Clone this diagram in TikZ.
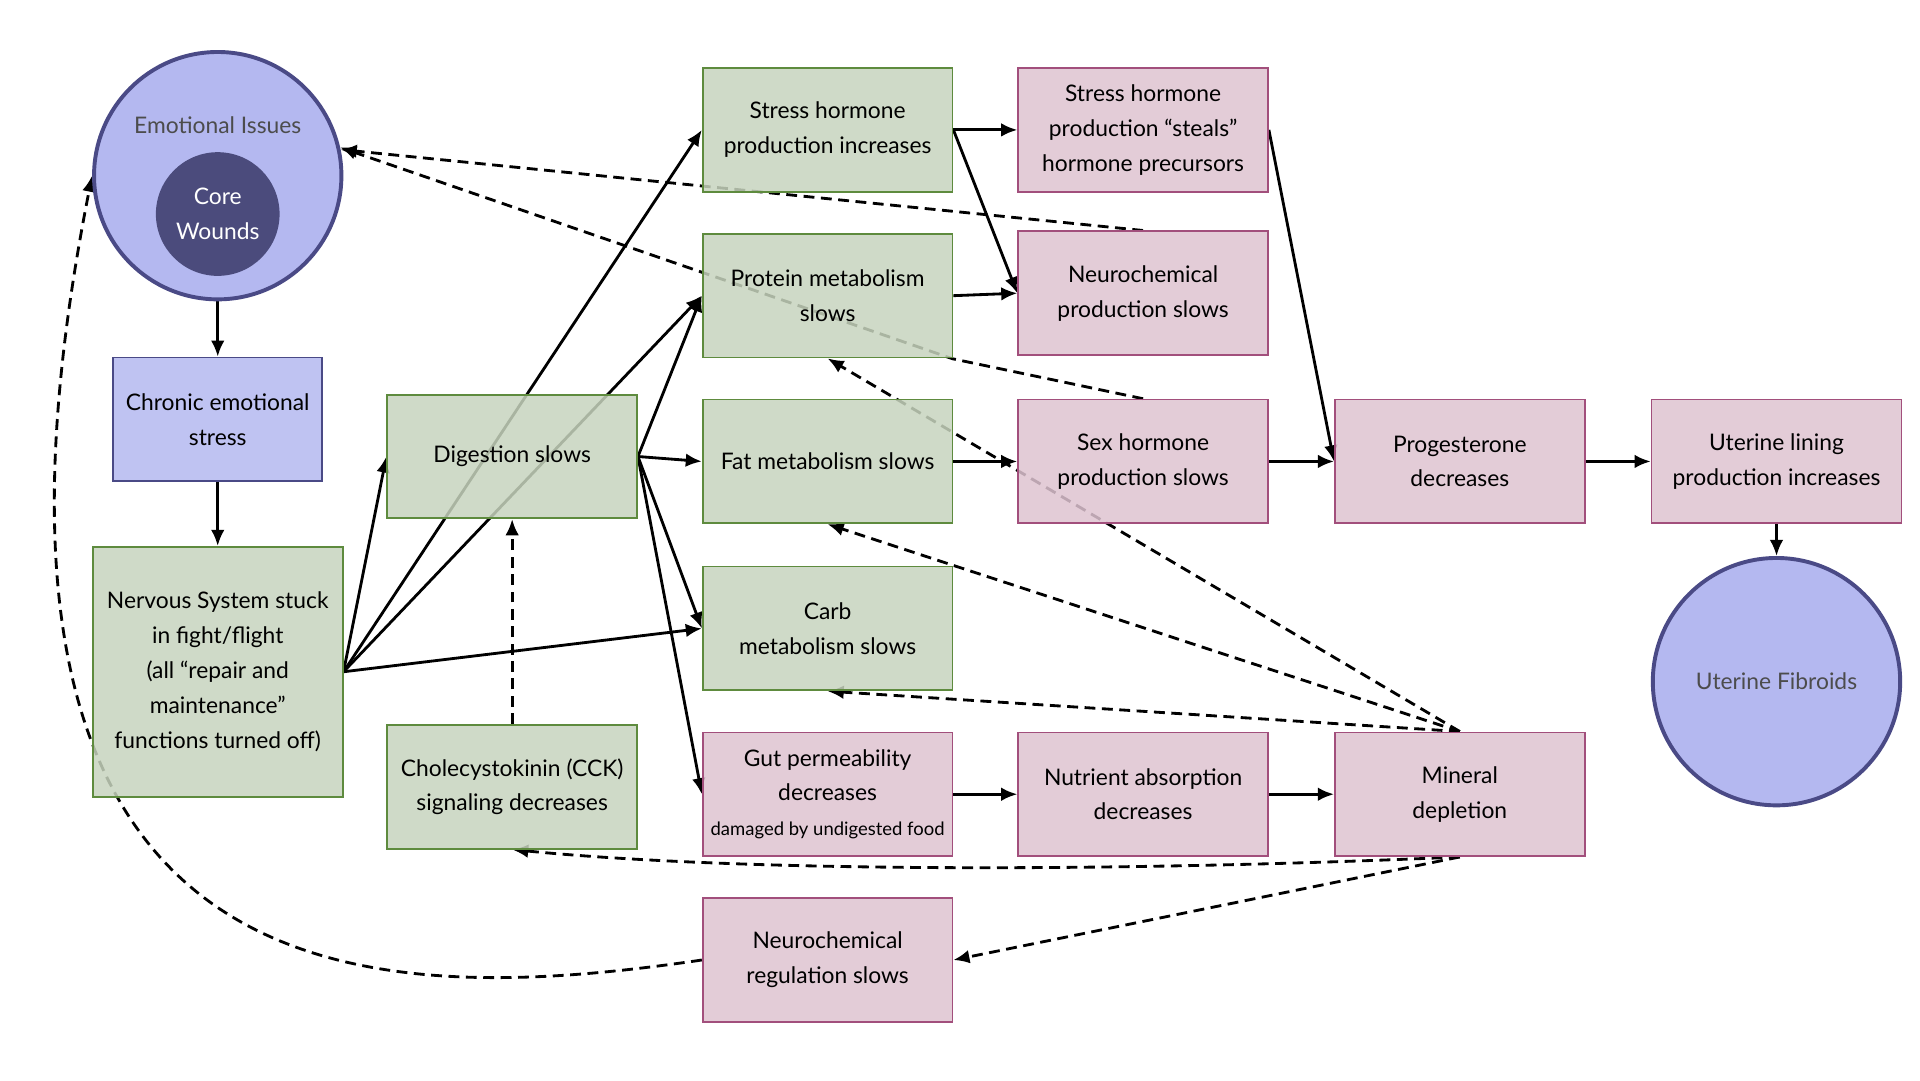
\documentclass[tikz,border=0pt]{standalone}
\usepackage{fontspec}
\setmainfont{Lato}
\usetikzlibrary{arrows.meta, positioning, backgrounds}
\definecolor{grnfill}{HTML}{C7D4BE}
\definecolor{grnline}{HTML}{5E8B3E}
\definecolor{pnkfill}{HTML}{DEC3D0}
\definecolor{pnkline}{HTML}{A24F7C}
\definecolor{blufill}{HTML}{B4B8F0}
\definecolor{bluline}{HTML}{4A4A86}
\definecolor{coredark}{HTML}{4B4B7C}
\tikzset{
    box/.style={rectangle, thick, align=center, minimum width=4.04cm, minimum height=2cm, fill opacity=0.85, text opacity=1, font=\fontsize{10.5}{16}\selectfont},
    green/.style={box, draw=grnline, fill=grnfill},
    pink/.style={box, draw=pnkline, fill=pnkfill},
    blue/.style={box, draw=bluline, fill=blufill},
    bigcirc/.style={circle, draw=bluline, line width=1.8pt, fill=blufill, minimum size=4cm, font=\fontsize{10.5}{16}\selectfont, text=black!70},
    arrow/.style={-{Latex[length=2.6mm, width=2.2mm]}, line width=1.3pt},
    dasharrow/.style={-{Latex[length=2.6mm, width=2.2mm]}, line width=1.3pt, dash pattern=on 5pt off 3pt}
}
\begin{document}
\begin{tikzpicture}[x=0.02cm, y=-0.02cm]
    \useasboundingbox (0,0) rectangle (1552,873);
    % circles
    \node[bigcirc] (emo) at (176,142) {};
    \node[text=black!70, font=\fontsize{10.5}{16}\selectfont] at (176,101) {Emotional Issues};
    \node[circle, fill=coredark, minimum size=2cm, text=white, align=center, font=\fontsize{10.5}{16}\selectfont] (core) at (176,173) {Core\\Wounds};
    \node[bigcirc] (fibroids) at (1436,551) {Uterine Fibroids};
    % left column
    \node[blue, minimum width=3.38cm] (chronic) at (176,339) {Chronic emotional\\stress};
    \node[green, minimum height=4.04cm] (nervous) at (176,543) {Nervous System stuck\\in fight/flight\\(all “repair and\\maintenance”\\functions turned off)};
    \node[green] (digest) at (414,369) {Digestion slows};
    \node[green] (cck) at (414,636) {Cholecystokinin (CCK)\\signaling decreases};
    % middle column
    \node[green] (stress) at (669,105) {Stress hormone\\production increases};
    \node[green] (protein) at (669,239) {Protein metabolism\\slows};
    \node[green] (fat) at (669,373) {Fat metabolism slows};
    \node[green] (carb) at (669,508) {Carb\\metabolism slows};
    \node[pink] (gut) at (669,642) {Gut permeability\\decreases\\{\fontsize{8.5}{10}\selectfont damaged by undigested food}};
    \node[pink] (neuroreg) at (669,776) {Neurochemical\\regulation slows};
    % right columns
    \node[pink] (steals) at (924,105) {Stress hormone\\production “steals”\\hormone precursors};
    \node[pink] (neuroprod) at (924,237) {Neurochemical\\production slows};
    \node[pink] (sex) at (924,373) {Sex hormone\\production slows};
    \node[pink] (nutrient) at (924,642) {Nutrient absorption\\decreases};
    \node[pink] (mineral) at (1180,642) {Mineral\\depletion};
    \node[pink] (proges) at (1180,373) {Progesterone\\decreases};
    \node[pink] (lining) at (1436,373) {Uterine lining\\production increases};

    \begin{scope}[on background layer]
    % solid links
    \draw[arrow] (emo) -- (chronic);
    \draw[arrow] (chronic) -- (nervous);
    \draw[arrow] (nervous.east) -- (digest.west);
    \draw[arrow] (nervous.east) -- (stress.west);
    \draw[arrow] (nervous.east) -- (protein.west);
    \draw[arrow] (nervous.east) -- (carb.west);
    \draw[arrow] (digest.east) -- (fat.west);
    \draw[arrow] (digest.east) -- (protein.west);
    \draw[arrow] (digest.east) -- (carb.west);
    \draw[arrow] (digest.east) -- (gut.west);
    \draw[arrow] (stress.east) -- (steals.west);
    \draw[arrow] (stress.east) -- (neuroprod.west);
    \draw[arrow] (protein.east) -- (neuroprod.west);
    \draw[arrow] (steals.east) -- (proges.west);
    \draw[arrow] (fat) -- (sex);
    \draw[arrow] (sex) -- (proges);
    \draw[arrow] (proges) -- (lining);
    \draw[arrow] (lining) -- (fibroids);
    \draw[arrow] (gut) -- (nutrient);
    \draw[arrow] (nutrient) -- (mineral);

    % dashed feedback
    \draw[dasharrow] (neuroprod.north) -- (emo.12);
    \draw[dasharrow] (sex.north) -- (770,290) -- (emo.13);
    \draw[dasharrow] (mineral.north) -- (protein.south);
    \draw[dasharrow] (mineral.north) -- (fat.south);
    \draw[dasharrow] (mineral.north) -- (carb.south);
    \draw[dasharrow] (cck) -- (digest);
    \draw[dasharrow] (mineral.south) .. controls (900,705) and (600,705) .. (cck.south);
    \draw[dasharrow] (mineral.south) -- (neuroreg.east);
    \draw[dasharrow] (neuroreg.west) .. controls (300,815) and (-60,820) .. (emo.west);
    \end{scope}
\end{tikzpicture}
\end{document}
